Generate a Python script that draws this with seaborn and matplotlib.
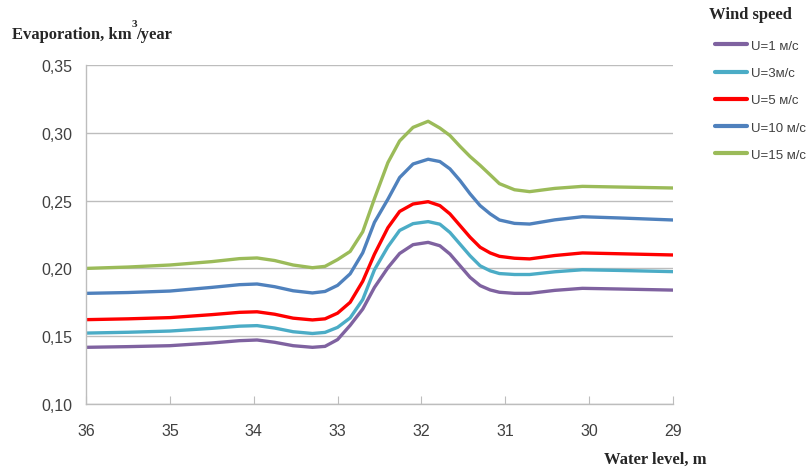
import pandas as pd
import numpy as np
import matplotlib.pyplot as plt
import seaborn as sns

# Water level (m) at the points
water_level = [36, 35.5, 35, 34.5, 34.17, 33.96, 33.75, 33.53, 33.3, 33.15, 33.0,
               32.85, 32.7, 32.56, 32.4, 32.26, 32.1, 31.92, 31.78, 31.66, 31.54,
               31.42, 31.3, 31.18, 31.07, 30.89, 30.71, 30.41, 30.08, 29.64, 29]

# Evaporation, km3/year, per wind speed
u1 = [0.1418, 0.1423, 0.143, 0.145, 0.1467, 0.1472, 0.1455, 0.143, 0.1418, 0.1425, 0.1475,
      0.158, 0.170, 0.186, 0.2005, 0.211, 0.2175, 0.2192, 0.2167, 0.2106, 0.202,
      0.1934, 0.1873, 0.1841, 0.1824, 0.1816, 0.1816, 0.1838, 0.1853, 0.1848, 0.184]
u3 = [0.1523, 0.1529, 0.1538, 0.1558, 0.1574, 0.1578, 0.156, 0.1533, 0.152, 0.1528, 0.1565,
      0.1635, 0.177, 0.199, 0.216, 0.228, 0.233, 0.2345, 0.2326, 0.2265, 0.2179,
      0.2093, 0.2019, 0.1982, 0.1962, 0.1955, 0.1955, 0.1975, 0.199, 0.1985, 0.1976]
u5 = [0.1622, 0.1628, 0.1637, 0.1659, 0.1676, 0.168, 0.1662, 0.1633, 0.162, 0.1628, 0.167,
      0.175, 0.1905, 0.2105, 0.230, 0.242, 0.2475, 0.2492, 0.2463, 0.2402, 0.2316,
      0.223, 0.2156, 0.2114, 0.2089, 0.2075, 0.207, 0.2095, 0.2114, 0.2108, 0.2099]
u10 = [0.1816, 0.1822, 0.1833, 0.186, 0.188, 0.1885, 0.1865, 0.1835, 0.1819, 0.183, 0.1875,
       0.196, 0.2115, 0.234, 0.251, 0.267, 0.277, 0.2805, 0.2788, 0.2734, 0.2648,
       0.255, 0.2463, 0.2402, 0.2357, 0.2332, 0.2327, 0.2358, 0.2381, 0.2372, 0.2357]
u15 = [0.200, 0.201, 0.2025, 0.205, 0.2072, 0.2077, 0.2058, 0.2025, 0.2005, 0.2015, 0.2065,
       0.2125, 0.227, 0.2515, 0.278, 0.294, 0.304, 0.3085, 0.3035, 0.298, 0.290,
       0.2825, 0.276, 0.269, 0.2625, 0.258, 0.2566, 0.259, 0.2605, 0.260, 0.2593]

series_names = ["U=1 м/с", "U=3м/с", "U=5 м/с", "U=10 м/с", "U=15 м/с"]
series_values = [u1, u3, u5, u10, u15]
colors = ["#7F62A0", "#4BACC6", "#FF0000", "#4F81BD", "#9BBB59"]
y_ticks = [0.10, 0.15, 0.20, 0.25, 0.30, 0.35]

rows = []
for name, vals in zip(series_names, series_values):
    for x, y in zip(water_level, vals):
        rows.append({"level": x, "evap": y, "U": name})
df = pd.DataFrame(rows)

sns.set_style("white")
plt.rcParams['font.family'] = ['Liberation Sans', 'DejaVu Sans']

fig = plt.figure(figsize=(8.07, 4.77), dpi=100)
ax = fig.add_axes([86 / 807, 1 - 405 / 477, (673 - 86) / 807, (405 - 66) / 477])

sns.lineplot(data=df, x="level", y="evap", hue="U", hue_order=series_names,
             palette=colors, linewidth=2.4, errorbar=None, ax=ax, legend=False)
for line in ax.lines:
    line.set_solid_joinstyle('round')
    line.set_solid_capstyle('round')

ax.set_xlim(36, 29)
ax.set_ylim(0.10, 0.35)
ax.set_xticks(range(36, 28, -1))
ax.set_yticks(y_ticks)
ax.set_yticklabels([f"{v:.2f}".replace(".", ",") for v in y_ticks])
ax.grid(axis='y', color='#BDBDBD', linewidth=1.0)
ax.set_axisbelow(True)
ax.set_xlabel("")
ax.set_ylabel("")

for side in ['top', 'right']:
    ax.spines[side].set_visible(False)
for side in ['left', 'bottom']:
    ax.spines[side].set_color('#BDBDBD')
    ax.spines[side].set_linewidth(1.0)

ax.tick_params(axis='x', direction='in', length=6, color='#BDBDBD', pad=14,
               labelsize=11.5, labelcolor='#404040', bottom=True)
ax.tick_params(axis='y', length=0, pad=10, labelsize=11.5, labelcolor='#404040')

# Titles
serif = dict(family='Liberation Serif', weight='bold')
t1 = fig.text(12 / 807, 1 - 39 / 477, "Evaporation, km", fontsize=12, va='baseline',
              ha='left', **serif)
ax.annotate("3", xy=(1, 1), xycoords=t1, xytext=(0, -1.5), textcoords='offset points',
            fontsize=8, va='bottom', ha='left', **serif)
ax.annotate("/year", xy=(1, 0), xycoords=t1, xytext=(3.5, 0), textcoords='offset points',
            fontsize=12, va='bottom', ha='left', **serif)
fig.text(707 / 807, 1 - 460 / 477, "Water level, m", fontsize=12, va='center',
         ha='right', **serif)
fig.text(750 / 807, 1 - 15 / 477, "Wind speed", fontsize=12, va='center',
         ha='center', **serif)

# Legend
handles = [plt.Line2D([0], [0], color=c, linewidth=3) for c in colors]
fig.legend(handles, series_names, loc='upper left',
           bbox_to_anchor=(703 / 807, 1 - 29 / 477), frameon=False,
           handlelength=2.4, handletextpad=0.35, labelspacing=1.13,
           fontsize=9.5, labelcolor='#404040')

fig.savefig("out.png", dpi=100)
